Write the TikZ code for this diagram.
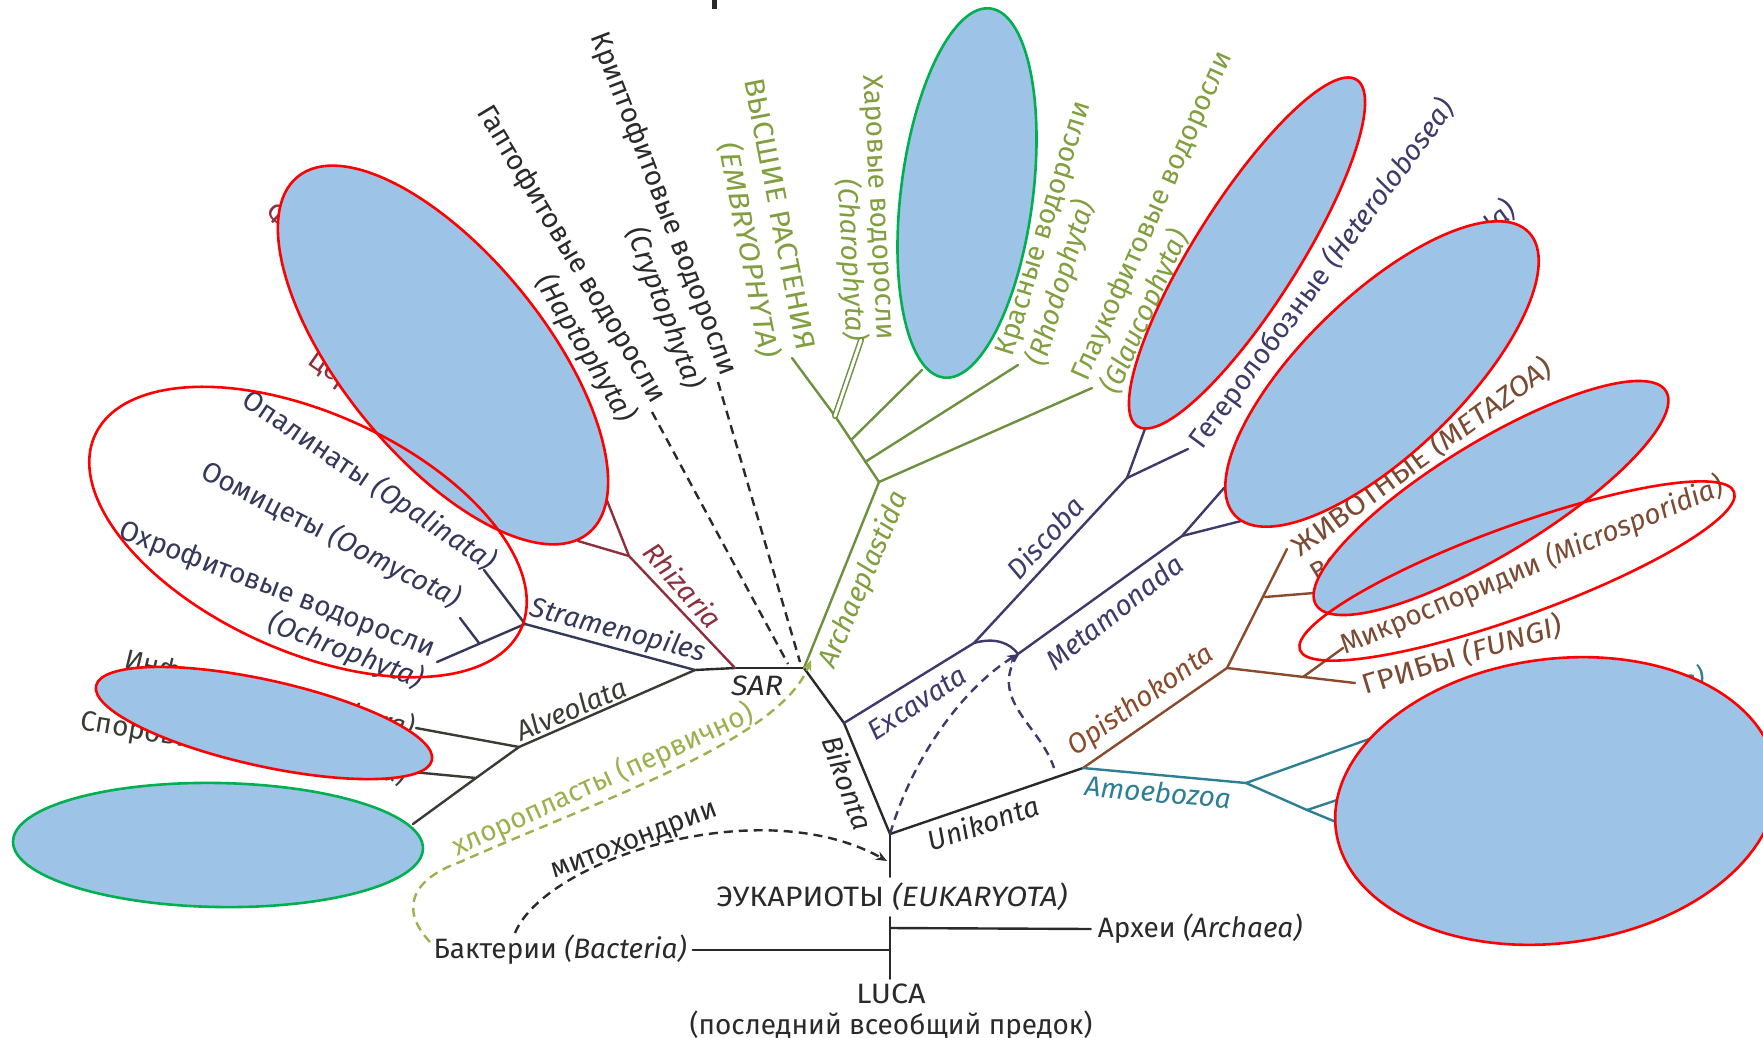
\documentclass[tikz,border=0pt]{standalone}
\usepackage{fontspec}
\setmainfont{Fira Sans}
\usetikzlibrary{shapes.geometric,arrows.meta}

\definecolor{inkblack}{HTML}{2A2A2A}
\definecolor{stramcol}{HTML}{34395A}
\definecolor{alveocol}{HTML}{3B3B33}
\definecolor{rhizcol}{HTML}{8E2F3D}
\definecolor{plantcol}{HTML}{6E9140}
\definecolor{planttext}{HTML}{819F3E}
\definecolor{excavcol}{HTML}{3E3A6C}
\definecolor{opiscol}{HTML}{8A4B2C}
\definecolor{opistext}{HTML}{7B4A33}
\definecolor{amoebcol}{HTML}{2E7F94}
\definecolor{chlorocol}{HTML}{9DB04E}
\definecolor{blobfill}{HTML}{9DC3E6}
\definecolor{blobred}{HTML}{FF0000}
\definecolor{blobgreen}{HTML}{00B050}

\newcommand\capsfont[1]{\fontsize{28}{#1}\selectfont\addfontfeature{FakeStretch=1.09}}

\begin{document}
\begin{tikzpicture}[x=1pt,y=-1pt,line width=2.4pt,line cap=round,
    font=\fontsize{28}{33}\selectfont,
    clade/.style={font=\fontsize{28}{33}\selectfont\itshape},
    dashlink/.style={dash pattern=on 9pt off 6pt},
    blob/.style={ellipse,inner sep=0pt,line width=2.6pt,fill=blobfill},
    ring/.style={ellipse,inner sep=0pt,line width=2.6pt}]

  \fill[white] (0,0) rectangle (1763,1038);
  \useasboundingbox (0,0) rectangle (1763,1038);

  \begin{scope}
    \coordinate (E)  at (890,834);
    \coordinate (BK) at (844,723);
    \coordinate (SA) at (804,668);
    \coordinate (SR) at (735,668);
    \coordinate (SX) at (695,670);
    \coordinate (ST) at (525,624);
    \coordinate (opalT)  at (484,570);
    \coordinate (ochroT) at (437,662);
    \coordinate (oomyB)  at (479,643);
    \coordinate (oomyT)  at (460,618);
    \coordinate (RZ) at (629,556);
    \coordinate (foramT) at (606,498);
    \coordinate (cercoT) at (578,541);
    \coordinate (AL)  at (519,747);
    \coordinate (cilioT) at (416,728);
    \coordinate (AL2) at (476,778);
    \coordinate (apicoT) at (402,771);
    \coordinate (dinoT)  at (413,824);
    \coordinate (haptoT)  at (652,412);
    \coordinate (haptoE)  at (788,664);
    \coordinate (cryptoT) at (718,382);
    \coordinate (cryptoE) at (800,662);
    \coordinate (AP)  at (879,482);
    \coordinate (AP1) at (865,462);
    \coordinate (AP2) at (851,440);
    \coordinate (AP3) at (835,416);
    \coordinate (glaucoT) at (1092,388);
    \coordinate (rhodoT)  at (1018,365);
    \coordinate (chloroT) at (922,370);
    \coordinate (embryoT) at (792,358);
    \coordinate (charoT)  at (861,340);
    \coordinate (EX)  at (974,643);
    \coordinate (DS)  at (1127,478);
    \coordinate (euglT)   at (1146,426);
    \coordinate (heteroT) at (1188,449);
    \coordinate (MT0) at (1018,654);
    \coordinate (MT)  at (1182,536);
    \coordinate (paraT)  at (1224,488);
    \coordinate (meta2T) at (1241,521);
    \coordinate (UE)  at (1083,768);
    \coordinate (UEd) at (1054,768);
    \coordinate (OP)  at (1227,668);
    \coordinate (ZVB) at (1265,597);
    \coordinate (ZVT) at (1287,549);
    \coordinate (choanoT) at (1314,593);
    \coordinate (FGB) at (1303,677);
    \coordinate (FGT) at (1355,683);
    \coordinate (MST) at (1343,648);
    \coordinate (AM)  at (1246,783);
    \coordinate (amo1T) at (1372,738);
    \coordinate (AM2) at (1307,810);
    \coordinate (amo2T) at (1337,800);
    \coordinate (amo3T) at (1336,822);
    \coordinate (ARJ) at (890,928);
    \coordinate (BAJ) at (890,950);
    \coordinate (mitoS) at (515,933);
    \coordinate (mitoE) at (887,861);
    \coordinate (chloS) at (430,942);
    \coordinate (chloM) at (460,862);
    \coordinate (chloE) at (811,660);
  \end{scope}

  % text labels
  \begin{scope}[every node/.style={inner sep=2pt}]
    \node[text=inkblack,inner sep=5pt,font=\capsfont{33}] (euk) at (892,897) {ЭУКАРИОТЫ \textit{(EUKARYOTA)}};
    \node[text=inkblack,inner sep=4pt,font=\capsfont{33}] (luca) at (891,994) {LUCA};
    \node[text=inkblack] (lucaname) at (891,1026) {(последний всеобщий предок)};
    \node[text=inkblack,inner sep=6pt] (archaea) at (1200,929) {Археи \textit{(Archaea)}};
    \node[text=inkblack,inner sep=5pt] (bacteria) at (560,950) {Бактерии \textit{(Bacteria)}};
    \node[text=inkblack,rotate=21] (mito) at (635,843) {митохондрии};
    \node[text=chlorocol,rotate=24.5] (chloro) at (603,780) {хлоропласты (первично)};
  \end{scope}

  \begin{scope}[every node/.style={clade}]
    \node[text=inkblack,font=\capsfont{33}\itshape] (sar) at (757,686) {SAR};
    \node[text=inkblack,rotate=-70] (bikonta) at (848,783) {Bikonta};
    \node[text=inkblack,rotate=19] (unikonta) at (983,823) {Unikonta};
    \node[text=stramcol,rotate=-15] (stramenopiles) at (618,631) {Stramenopiles};
    \node[text=alveocol,rotate=23] (alveolata) at (571,709) {Alveolata};
    \node[text=rhizcol,rotate=-49] (rhizaria) at (683,585) {Rhizaria};
    \node[text=planttext,rotate=67] (archaeplastida) at (864,580) {Archaeplastida};
    \node[text=excavcol,rotate=33] (excavata) at (917,703) {Excavata};
    \node[text=excavcol,rotate=48] (discoba) at (1045,537) {Discoba};
    \node[text=excavcol,rotate=38] (metamonada) at (1114,612) {Metamonada};
    \node[text=opiscol,rotate=35] (opisthokonta) at (1141,701) {Opisthokonta};
    \node[text=amoebcol,rotate=-5] (amoebozoa) at (1158,792) {Amoebozoa};
  \end{scope}

  \begin{scope}[every node/.style={inner sep=2pt}]
    \node[text=stramcol,rotate=-34] (opal) at (369,481) {Опалинаты \textit{(Opalinata)}};
    \node[text=stramcol,rotate=-27] (oomy) at (331,535) {Оомицеты \textit{(Oomycota)}};
    \node[text=stramcol,rotate=-21,align=right,font=\fontsize{28}{33}\selectfont] (ochro) at (271,606)
      {Охрофитовые водоросли\\\textit{(Ochrophyta)}};
    \node[text=rhizcol,rotate=-42,anchor=west] (foram) at (268,206) {Фораминиферы \textit{(Foraminifera)}};
    \node[text=rhizcol,rotate=-35,anchor=west] (cerco) at (309,354) {Церкозои \textit{(Cercozoa)}};
    \node[text=alveocol,rotate=-13.5,font=\fontsize{27}{33}\selectfont] (cilio) at (270,694) {Инфузории \textit{(Ciliophora)}};
    \node[text=alveocol,rotate=-9.5] (apico) at (244,748) {Споровики \textit{(Apicomplexa)}};
    \node[text=inkblack,rotate=-59,align=right,font=\fontsize{28}{37}\selectfont] (hapto) at (555,264)
      {Гаптофитовые водоросли\\\textit{(Haptophyta)}};
    \node[text=inkblack,rotate=-69,align=right,font=\fontsize{28}{37}\selectfont] (crypto) at (646,211)
      {Криптофитовые водоросли\\\textit{(Cryptophyta)}};
    \node[text=planttext,rotate=-79,align=right,font=\capsfont{37}] (embryo) at (760,218)
      {ВЫСШИЕ РАСТЕНИЯ\\\textit{(EMBRYOPHYTA)}};
    \node[text=planttext,rotate=-87,align=right,font=\fontsize{28}{25}\selectfont] (charo) at (862,208)
      {Харовые водоросли\\\textit{(Charophyta)}};
    \node[text=planttext,rotate=73,align=left,font=\fontsize{28}{33}\selectfont] (rhodo) at (1061,234)
      {Красные водоросли\\\textit{(Rhodophyta)}};
    \node[text=planttext,rotate=66,align=left,font=\fontsize{28}{33}\selectfont] (glauco) at (1168,223)
      {Глаукофитовые водоросли\\\textit{(Glaucophyta)}};
    \node[text=excavcol,rotate=53.5] (hetero) at (1322,274) {Гетеролобозные \textit{(Heterolobosea)}};
    \node[text=excavcol,rotate=44,anchor=east] (para) at (1514,204) {Парабазалиды \textit{(Parabasalida)}};
    \node[text=opistext,rotate=36,font=\capsfont{33}] (metazoa) at (1422,457) {ЖИВОТНЫЕ \textit{(METAZOA)}};
    \node[text=opistext,rotate=31,anchor=west] (choano) at (1311,579) {Воротничковые};
    \node[text=opistext,rotate=23] (micro) at (1532,566) {Микроспоридии \textit{(Microsporidia)}};
    \node[text=opistext,rotate=17,font=\capsfont{33}] (fungi) at (1462,655) {ГРИБЫ \textit{(FUNGI)}};
    \node[text=amoebcol,rotate=10,anchor=east] (amoe) at (1708,677) {Лобозные \textit{(Tubulinea)}};
  \end{scope}

  % branches
  \begin{scope}[every edge/.style={draw,inkblack}]
    \path (E) edge (BK);
    \path (BK) edge (SA);
    \path (SA) edge (SR);
    \path (SR) edge (SX);
    \path (E) edge (UE);
    \path (E) edge (E |- euk.north);
    \path (E |- euk.south) edge (E |- luca.north);
    \path (ARJ) edge (archaea.west);
    \path (bacteria.east) edge (BAJ);
  \end{scope}

  \begin{scope}[every edge/.style={draw,stramcol}]
    \path (SX) edge (ST);
    \path (ST) edge (opalT);
    \path (ST) edge (ochroT);
    \path (oomyB) edge (oomyT);
  \end{scope}

  \begin{scope}[every edge/.style={draw,rhizcol}]
    \path (SR) edge (RZ);
    \path (RZ) edge (foramT);
    \path (RZ) edge (cercoT);
  \end{scope}

  \begin{scope}[every edge/.style={draw,alveocol}]
    \path (SX) edge (AL);
    \path (AL) edge (cilioT);
    \path (AL) edge (AL2);
    \path (AL2) edge (apicoT);
    \path (AL2) edge (dinoT);
  \end{scope}

  \begin{scope}[every edge/.style={draw,plantcol}]
    \path (SA) edge (AP);
    \path (AP) edge (AP3);
    \path (AP) edge (glaucoT);
    \path (AP1) edge (rhodoT);
    \path (AP2) edge (chloroT);
    \path (AP3) edge (embryoT);
    \path (AP3) edge[line width=1.5pt,double=white,double distance=3pt] (charoT);
  \end{scope}

  \begin{scope}[every edge/.style={draw,excavcol}]
    \path (BK) edge (EX);
    \path (EX) edge (DS);
    \path (DS) edge (euglT);
    \path (DS) edge (heteroT);
    \path (MT0) edge (MT);
    \path (MT) edge (paraT);
    \path (MT) edge (meta2T);
  \end{scope}
  \draw[excavcol] (EX) .. controls (995,637) and (1010,643) .. (MT0);

  \begin{scope}[every edge/.style={draw,opiscol}]
    \path (UE) edge (OP);
    \path (OP) edge (ZVT);
    \path (ZVB) edge (choanoT);
    \path (OP) edge (FGT);
    \path (FGB) edge (MST);
  \end{scope}

  \begin{scope}[every edge/.style={draw,amoebcol}]
    \path (UE) edge (AM);
    \path (AM) edge (amo1T);
    \path (AM) edge (AM2);
    \path (AM2) edge (amo2T);
    \path (AM2) edge (amo3T);
  \end{scope}

  % dashed links
  \begin{scope}[dashlink,line cap=butt]
    \draw[inkblack] (haptoT) -- (haptoE);
    \draw[inkblack] (cryptoT) -- (cryptoE);
    \draw[inkblack,-{Stealth[length=11pt,width=9pt]}] (mitoS) .. controls (545,860) and (760,790) .. (mitoE);
    \draw[chlorocol,-{Stealth[length=11pt,width=9pt]}] (chloS) .. controls (400,910) and (410,880) .. (chloM)
      .. controls (600,800) and (780,740) .. (chloE);
    \draw[excavcol,-{Stealth[length=11pt,width=9pt]}] (E) .. controls (915,750) and (968,685) .. (MT0);
    \draw[excavcol] (MT0) .. controls (988,700) and (1040,725) .. (UEd);
  \end{scope}

  \draw[inkblack,line width=5pt,line cap=butt] (714,0) -- (714,9);

  % covers
  \node[blob,draw=blobred,minimum width=460pt,minimum height=202pt,rotate=-50.8] (rhizblob) at (443,355) {};
  \node[ring,draw=blobred,minimum width=468pt,minimum height=238pt,rotate=-24.4] (stramring) at (308,532) {};
  \node[blob,draw=blobred,minimum width=344pt,minimum height=86pt,rotate=-12.5] (alveoblob) at (264,723) {};
  \node[blob,draw=blobgreen,minimum width=410pt,minimum height=124pt,rotate=-1] (dinoblob) at (218,845) {};
  \node[blob,draw=blobgreen,minimum width=372pt,minimum height=132pt,rotate=82.8] (chloroblob) at (967,193) {};
  \node[blob,draw=blobred,minimum width=410pt,minimum height=104pt,rotate=57.7] (euglblob) at (1247,253) {};
  \node[blob,draw=blobred,minimum width=408pt,minimum height=158pt,rotate=44] (metablob) at (1382,374) {};
  \node[blob,draw=blobred,minimum width=410pt,minimum height=112pt,rotate=31.4] (choanoblob) at (1491,498) {};
  \node[ring,draw=blobred,minimum width=462pt,minimum height=90pt,rotate=20] (microring) at (1517,571) {};
  \node[blob,draw=blobred,minimum width=444pt,minimum height=284pt,rotate=7.7] (amoebblob) at (1556,801) {};

\end{tikzpicture}
\end{document}
